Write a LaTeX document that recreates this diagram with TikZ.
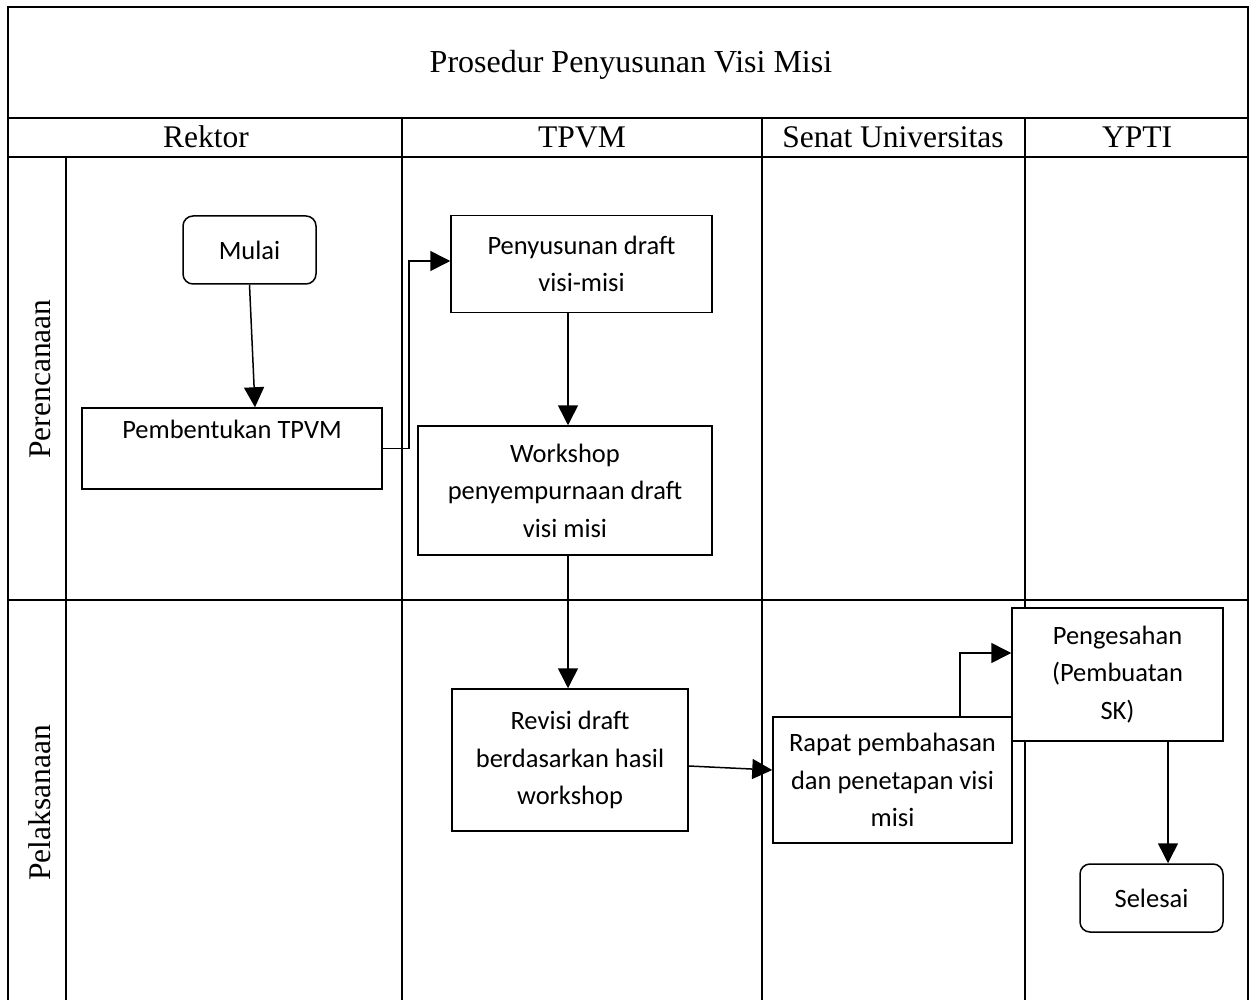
\documentclass[tikz,border=0pt]{standalone}
\usepackage{fontspec}
\setmainfont{Liberation Serif}
\newfontfamily\calibri{Carlito}
\usetikzlibrary{arrows.meta}
\begin{document}
\begin{tikzpicture}[x=1pt,y=-1pt,
  grid/.style={line width=2.3pt},
  hdr/.style={font=\fontsize{31.5}{36}\selectfont, inner sep=0pt},
  rowlbl/.style={font=\fontsize{31.5}{36}\selectfont, inner sep=0pt, rotate=90},
  procbox/.style={draw, line width=1.5pt, fill=white, inner sep=0pt, align=center,
    font=\calibri\fontsize{26.5}{37.5}\selectfont},
  termbox/.style={procbox, rounded corners=10pt},
  flow/.style={line width=1.5pt, -{Triangle[length=20pt,width=20pt]}}
]
\useasboundingbox (0,0) rectangle (1250,1000);
% table
\draw[grid] (8,1000) -- (8,7) -- (1248,7) -- (1248,1000);
\draw[grid] (8,118) -- (1248,118);
\draw[grid] (8,157) -- (1248,157);
\draw[grid] (8,600) -- (1248,600);
\draw[grid] (66,157) -- (66,1000);
\draw[grid] (402,118) -- (402,1000);
\draw[grid] (762,118) -- (762,1000);
\draw[grid] (1025,118) -- (1025,1000);
% titles
\node[hdr, font=\fontsize{32}{38}\selectfont] (title) at (631,65) {Prosedur Penyusunan Visi Misi};
\node[hdr] (hrek) at (206,137) {Rektor};
\node[hdr] (htpvm) at (582,137) {TPVM};
\node[hdr] (hsenat) at (893,137) {Senat Universitas};
\node[hdr] (hypti) at (1137,137) {YPTI};
\node[rowlbl] (rplan) at (40,379) {Perencanaan};
\node[rowlbl] (rexec) at (40,803) {Pelaksanaan};
% boxes
\node[termbox, minimum width=133pt, minimum height=68pt] (mulai) at (249.5,250) {Mulai};
\node[procbox, minimum width=300pt, minimum height=81pt] (pb) at (232,448.5) {Pembentukan TPVM\\\mbox{}};
\node[procbox, minimum width=261pt, minimum height=97pt] (peny) at (581.5,264) {Penyusunan draft\\visi-misi};
\node[procbox, minimum width=294pt, minimum height=129pt] (work) at (565,490.5) {Workshop\\penyempurnaan draft\\visi misi};
\node[procbox, minimum width=236pt, minimum height=142pt] (rev) at (570,760) {Revisi draft\\berdasarkan hasil\\workshop};
\node[procbox, minimum width=239pt, minimum height=126pt] (rapat) at (892.5,780) {Rapat pembahasan\\dan penetapan visi\\misi};
\node[procbox, minimum width=211pt, minimum height=133pt] (peng) at (1117.5,674.5) {Pengesahan\\(Pembuatan\\SK)};
\node[termbox, minimum width=143pt, minimum height=68pt] (sel) at (1151.5,898) {Selesai};
% connectors
\draw[flow] (mulai.south) -- ([xshift=23pt]pb.north);
\draw[flow] (pb.east) -- ++(26,0) |- ([yshift=3pt]peny.west);
\draw[flow] ([xshift=-13.5pt]peny.south) -- ([xshift=3pt]work.north);
\draw[flow] ([xshift=3pt]work.south) -- ([xshift=-2pt]rev.north);
\draw[flow] ([yshift=-6pt]rev.east) -- ([yshift=10pt]rapat.west);
\draw[flow] ([xshift=67.5pt]rapat.north) |- ([yshift=21.5pt]peng.west);
\draw[flow] ([xshift=50.5pt]peng.south) -- ([xshift=50.5pt]peng.south |- sel.north);
\end{tikzpicture}
\end{document}
